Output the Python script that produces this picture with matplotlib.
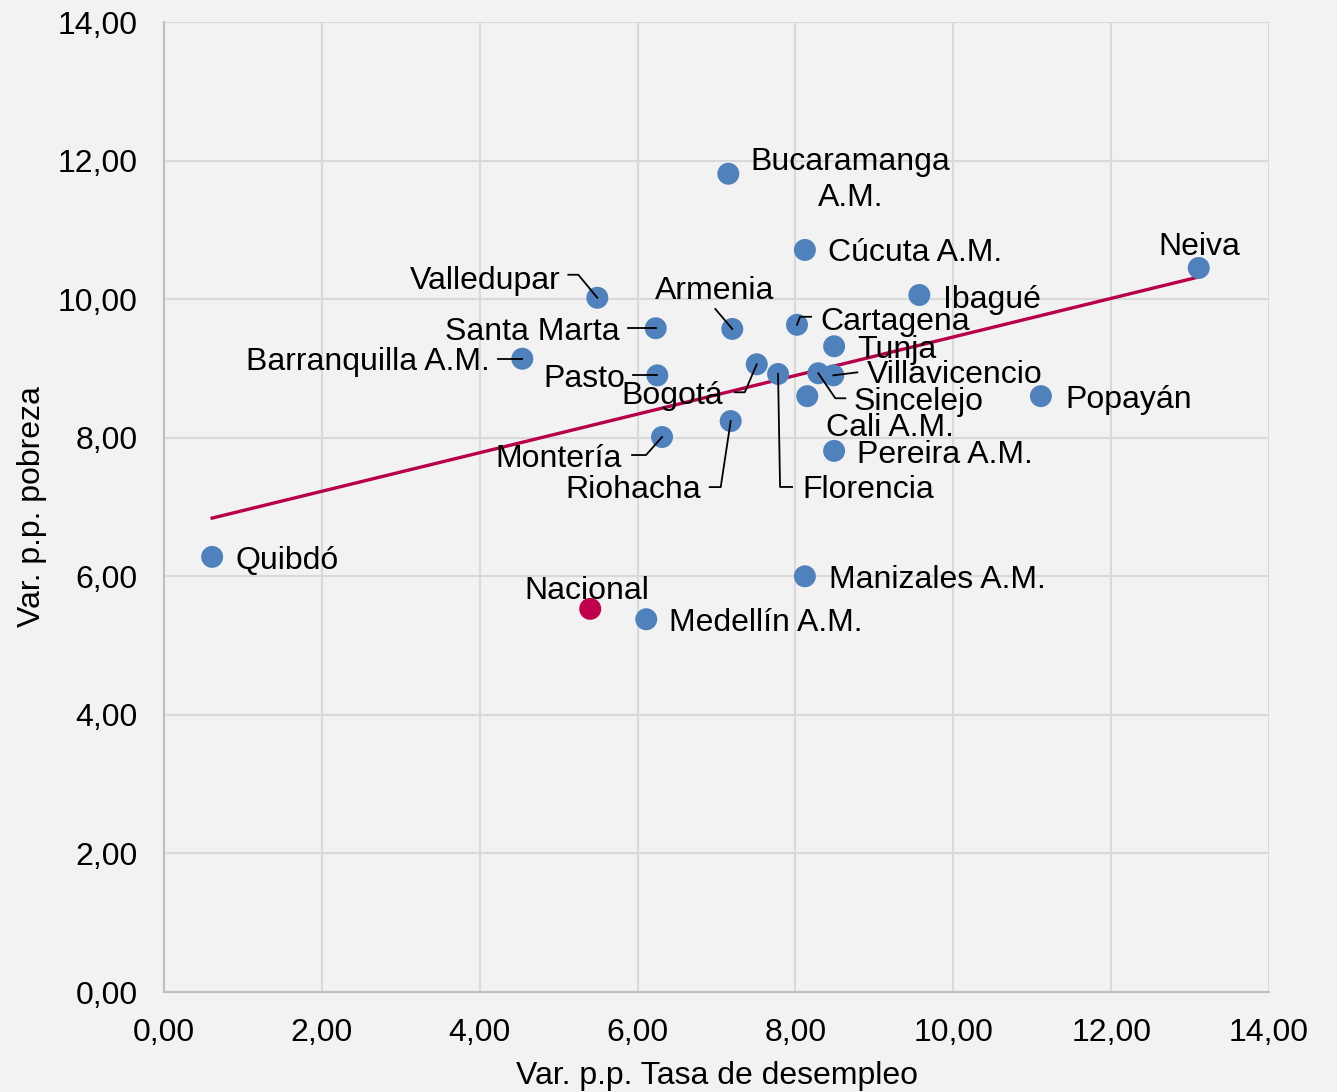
import numpy as np
import matplotlib.pyplot as plt

# data: change in unemployment rate (x) vs change in poverty (y), percentage points
cities = ['Quibdó', 'Medellín A.M.', 'Manizales A.M.', 'Bucaramanga\nA.M.', 'Cúcuta A.M.',
          'Neiva', 'Ibagué', 'Valledupar', 'Armenia', 'Santa Marta', 'Cartagena', 'Tunja',
          'Barranquilla A.M.', 'Pasto', 'Bogotá', 'Villavicencio', 'Sincelejo', 'Cali A.M.',
          'Popayán', 'Pereira A.M.', 'Montería', 'Riohacha', 'Florencia']
desempleo = [0.61, 6.11, 8.12, 7.15, 8.12,
             13.11, 9.57, 5.49, 7.20, 6.23, 8.02, 8.49,
             4.54, 6.25, 7.51, 8.48, 8.29, 8.15,
             11.11, 8.49, 6.31, 7.18, 7.78]
pobreza = [6.28, 5.38, 6.00, 11.81, 10.71,
           10.45, 10.06, 10.02, 9.57, 9.58, 9.63, 9.32,
           9.14, 8.90, 9.06, 8.90, 8.93, 8.60,
           8.60, 7.81, 8.01, 8.24, 8.92]
nacional_x = 5.40
nacional_y = 5.53

# trend line end values
trend_x = [0.61, 13.11]
trend_y = [6.84, 10.32]

# label layout, pixel offsets from the point (x right, y down), alignment,
# and leader line elbow offsets (None = no leader)
label_layout = {
    'Quibdó': (23, 2, 'left', None),
    'Medellín A.M.': (23, 2, 'left', None),
    'Manizales A.M.': (24, 2, 'left', None),
    'Bucaramanga\nA.M.': (122, 4, 'center', None),
    'Cúcuta A.M.': (23, 1, 'left', None),
    'Neiva': (1, -23, 'center', None),
    'Ibagué': (24, 3, 'left', None),
    'Valledupar': (-37, -19, 'right', [(-19, -23), (-29, -23)]),
    'Armenia': (-18, -40, 'center', [(-17, -20)]),
    'Santa Marta': (-36, 2, 'right', [(-28, 0)]),
    'Cartagena': (23, -5, 'left', [(3, -8), (14, -8)]),
    'Tunja': (23, 2, 'left', None),
    'Barranquilla A.M.': (-33, 1, 'right', [(-24, 0)]),
    'Pasto': (-32, 2, 'right', [(-24, 0)]),
    'Bogotá': (-85, 30, 'center', [(-12, 28), (-22, 28)]),
    'Villavicencio': (34, -2, 'left', [(24, -3)]),
    'Sincelejo': (35, 27, 'left', [(17, 25), (27, 25)]),
    'Cali A.M.': (19, 30, 'left', None),
    'Popayán': (24, 2, 'left', None),
    'Pereira A.M.': (23, 2, 'left', None),
    'Montería': (-40, 20, 'right', [(-16, 18), (-30, 18)]),
    'Riohacha': (-30, 67, 'right', [(-10, 66), (-21, 66)]),
    'Florencia': (24, 114, 'left', [(2, 113), (14, 113)]),
}
TEXT_SHIFT = 2  # px, nudges label text down to sit like the reference

plt.rcParams['font.family'] = ['Liberation Sans', 'DejaVu Sans']
BG = '#f2f2f2'
BLUE = '#4f81bd'
RED = '#c0004b'
FS = 23

fig = plt.figure(figsize=(13.37, 10.92), dpi=100, facecolor=BG)
ax = fig.add_axes([164 / 1337, 1 - 992 / 1092, 1105 / 1337, 970 / 1092])
ax.set_facecolor(BG)
ax.set_xlim(0, 14)
ax.set_ylim(0, 14)
ticks = np.arange(0, 15, 2)
ax.set_xticks(ticks)
ax.set_yticks(ticks)
ax.set_xticklabels([f'{t:.2f}'.replace('.', ',') for t in ticks])
ax.set_yticklabels([f'{t:.2f}'.replace('.', ',') for t in ticks])
ax.tick_params(length=0, labelsize=FS, colors='black')
ax.tick_params(axis='x', pad=19)
ax.tick_params(axis='y', pad=19)
ax.grid(True, color='#d9d9d9', linewidth=1.5)
ax.set_axisbelow(True)
for s in ['top', 'right']:
    ax.spines[s].set_visible(False)
for s in ['left', 'bottom']:
    ax.spines[s].set_color('#bfbfbf')
    ax.spines[s].set_linewidth(1.5)

# linear trend
ax.plot(trend_x, trend_y, color='#b8004a', linewidth=2.4, zorder=2)

ax.scatter(desempleo, pobreza, s=250, color=BLUE, edgecolors='none', zorder=3)
ax.scatter([nacional_x], [nacional_y], s=250, color=RED, edgecolors='none', zorder=3)


def px_to_data(x, y, dx, dy):
    px, py = ax.transData.transform((x, y))
    return ax.transData.inverted().transform((px + dx, py - dy))


for name, x, y in zip(cities, desempleo, pobreza):
    dx, dy, ha, leader = label_layout[name]
    tx_, ty_ = px_to_data(x, y, dx, dy + TEXT_SHIFT)
    ax.text(tx_, ty_, name, fontsize=FS, ha=ha, va='center', color='black',
            linespacing=1.25, zorder=5)
    if leader:
        pts = [(x, y)] + [tuple(px_to_data(x, y, ex, ey)) for ex, ey in leader]
        lx, ly = zip(*pts)
        ax.plot(lx, ly, color='black', linewidth=1.3, zorder=4)

nx, ny = px_to_data(nacional_x, nacional_y, -3, -20 + TEXT_SHIFT)
ax.text(nx, ny, 'Nacional', fontsize=FS, ha='center', va='center', color='black', zorder=5)

fig.text(717 / 1337, 1 - 1076 / 1092, 'Var. p.p. Tasa de desempleo', fontsize=FS,
         ha='center', va='center')
fig.text(32 / 1337, 1 - 507 / 1092, 'Var. p.p. pobreza', fontsize=FS,
         ha='center', va='center', rotation=90)

fig.savefig('out.png', dpi=100, facecolor=BG)
